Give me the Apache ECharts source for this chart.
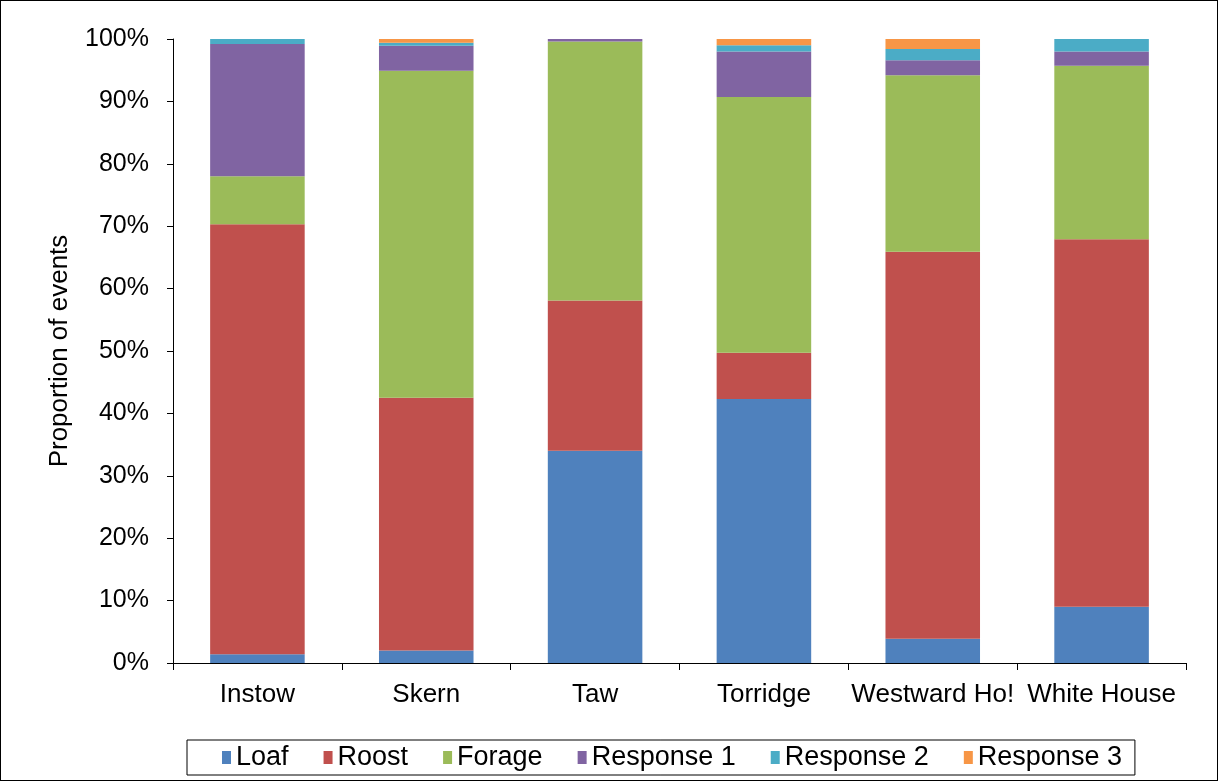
<!DOCTYPE html>
<html>
<head>
<meta charset="utf-8">
<script src="https://cdn.jsdelivr.net/npm/echarts@6/dist/echarts.min.js"></script>
<style>
  html, body { margin: 0; padding: 0; background: #fff; }
  #main { width: 1218px; height: 781px; box-sizing: border-box; border: 1px solid #000; }
</style>
</head>
<body>
<div id="main"></div>
<script>
var sites = ['Instow', 'Skern', 'Taw', 'Torridge', 'Westward Ho!', 'White House']
var loaf = [1.4, 2.0, 34.0, 42.3, 3.9, 9.0]
var roost = [68.9, 40.5, 24.1, 7.4, 62.0, 58.9]
var forage = [7.7, 52.4, 41.5, 41.0, 28.3, 27.8]
var response1 = [21.2, 4.0, 0.4, 7.3, 2.4, 2.3]
var response2 = [0.8, 0.5, 0, 1.0, 1.8, 2.0]
var response3 = [0, 0.6, 0, 1.0, 1.6, 0]

var names = ['Loaf', 'Roost', 'Forage', 'Response 1', 'Response 2', 'Response 3']
var colors = ['#4F81BD', '#C0504D', '#9BBB59', '#8064A2', '#4BACC6', '#F79646']
var values = [loaf, roost, forage, response1, response2, response3]

var font = 'Arial, "Liberation Sans", sans-serif'

var series = []
for (var i = 0; i < names.length; i++) {
    series.push({
        name: names[i],
        type: 'bar',
        stack: 'total',
        barWidth: '56%',
        data: values[i],
        itemStyle: { color: colors[i] },
    })
}

var myChart = echarts.init(document.getElementById('main'))
var option = {
    animation: false,
    grid: { left: 172, right: 31, top: 38, bottom: 117 },
    legend: {
        data: names,
        bottom: 5,
        left: 186,
        itemGap: 35,
        itemWidth: 9,
        itemHeight: 13,
        icon: 'rect',
        borderColor: '#000',
        borderWidth: 1,
        borderRadius: 0,
        padding: [4, 13, 4, 35],
        textStyle: { fontFamily: font, fontSize: 27, color: '#000' },
    },
    xAxis: {
        type: 'category',
        data: sites,
        axisLine: { lineStyle: { color: '#000', width: 1 } },
        axisTick: { show: true, length: 7, lineStyle: { color: '#000' } },
        axisLabel: { fontFamily: font, fontSize: 26, color: '#000', margin: 19, interval: 0 },
    },
    yAxis: {
        type: 'value',
        min: 0,
        max: 100,
        interval: 10,
        name: 'Proportion of events',
        nameLocation: 'middle',
        nameGap: 100,
        nameTextStyle: { fontFamily: font, fontSize: 26, color: '#000' },
        axisLine: { show: true, lineStyle: { color: '#000', width: 1 } },
        axisTick: { show: true, length: 6, lineStyle: { color: '#000' } },
        splitLine: { show: false },
        axisLabel: { fontFamily: font, fontSize: 25, color: '#000', margin: 24, formatter: '{value}%' },
    },
    series: series,
}
myChart.setOption(option, true)
</script>
</body>
</html>
